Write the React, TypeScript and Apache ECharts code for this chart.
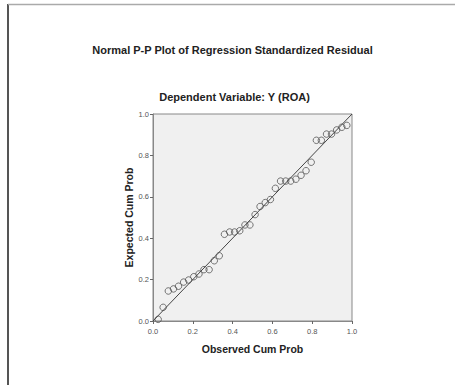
import React, { useEffect, useRef } from "react";
import * as echarts from "echarts";

const titleText = "Normal P-P Plot of Regression Standardized Residual";
const subtitleText = "Dependent Variable: Y (ROA)";
const xName = "Observed Cum Prob";
const yName = "Expected Cum Prob";

const observed = [
  0.026, 0.051, 0.077, 0.103, 0.128, 0.154, 0.179, 0.205, 0.231, 0.256,
  0.282, 0.308, 0.333, 0.359, 0.385, 0.41, 0.436, 0.462, 0.487, 0.513,
  0.538, 0.564, 0.59, 0.615, 0.641, 0.667, 0.692, 0.718, 0.744, 0.769,
  0.795, 0.821, 0.846, 0.872, 0.897, 0.923, 0.949, 0.974,
];
const expected = [
  0.008, 0.066, 0.145, 0.155, 0.168, 0.188, 0.198, 0.214, 0.227, 0.248,
  0.248, 0.291, 0.315, 0.419, 0.43, 0.43, 0.436, 0.464, 0.464, 0.514,
  0.553, 0.572, 0.587, 0.641, 0.676, 0.676, 0.676, 0.685, 0.704, 0.726,
  0.767, 0.873, 0.873, 0.903, 0.903, 0.923, 0.936, 0.945,
];
const refLine = [
  [0, 0],
  [1, 1],
];

const FONT = "'Liberation Sans', Arial, sans-serif";

export default function App() {
  const ref = useRef<HTMLDivElement>(null);
  useEffect(() => {
    if (!ref.current) return;
    const chart = echarts.init(ref.current, undefined, { renderer: "svg" });
    const axisCommon = {
      type: "value" as const,
      min: 0,
      max: 1,
      interval: 0.2,
      axisLine: { show: true, lineStyle: { color: "#888", width: 1 } },
      axisTick: { show: true, inside: false, length: 3, lineStyle: { color: "#666" } },
      splitLine: { show: false },
      axisLabel: {
        formatter: (v: number) => v.toFixed(1),
        fontSize: 7.5,
        color: "#555",
        fontFamily: FONT,
        margin: 4,
      },
      nameLocation: "middle" as const,
      nameTextStyle: { fontSize: 10.5, fontWeight: "bold" as const, color: "#222", fontFamily: FONT },
    };
    chart.setOption({
      animation: false,
      backgroundColor: "#fff",
      grid: {
        left: 153,
        top: 114,
        width: 199,
        height: 207,
        show: true,
        backgroundColor: "#f0f0f0",
        borderColor: "#888",
        borderWidth: 1,
      },
      xAxis: { ...axisCommon, name: xName, nameGap: 22, axisLabel: { ...axisCommon.axisLabel, margin: 6 } },
      yAxis: { ...axisCommon, name: yName, nameGap: 18 },
      graphic: [
        { type: "line", shape: { x1: 8, y1: 4, x2: 8, y2: 385 }, style: { stroke: "#555", lineWidth: 2 } },
        { type: "line", shape: { x1: 8, y1: 4.5, x2: 455, y2: 4.5 }, style: { stroke: "#aaa", lineWidth: 1.5 } },
        {
          type: "text",
          x: 232.5,
          y: 50,
          style: { text: titleText, align: "center", verticalAlign: "middle", font: `bold 11px ${FONT}`, fill: "#222" },
        },
        {
          type: "text",
          x: 234.5,
          y: 97,
          style: { text: subtitleText, align: "center", verticalAlign: "middle", font: `bold 11px ${FONT}`, fill: "#222" },
        },
      ],
      series: [
        {
          type: "line",
          data: refLine,
          symbol: "none",
          lineStyle: { color: "#444", width: 1 },
          silent: true,
        },
        {
          type: "scatter",
          data: observed.map((x, i) => [x, expected[i]]),
          symbol: "circle",
          symbolSize: 6.5,
          itemStyle: { color: "transparent", borderColor: "#555", borderWidth: 1 },
        },
      ],
    });
    return () => chart.dispose();
  }, []);
  return (
    <div
      ref={ref}
      style={{ position: "fixed", left: 0, top: 0, width: 455, height: 385, background: "#fff" }}
    />
  );
}
